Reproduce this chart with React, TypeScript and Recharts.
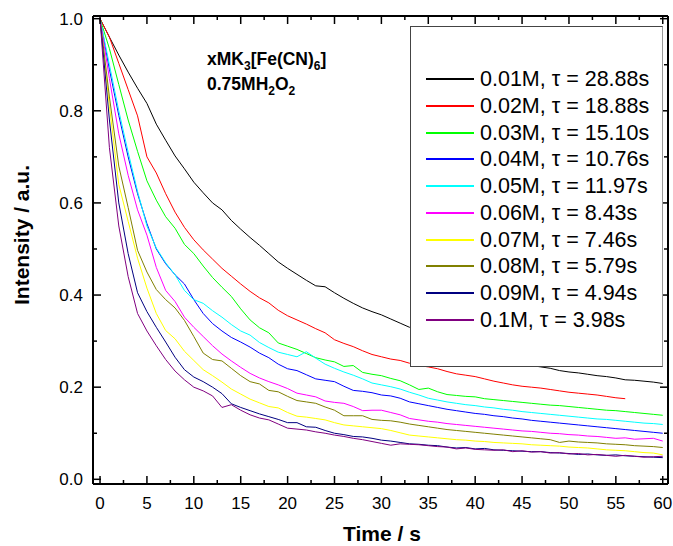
import React from 'react';
import { LineChart, Line, XAxis, YAxis, Legend, Customized } from 'recharts';

const FONT = "Arial, 'Liberation Sans', Helvetica, sans-serif";

const times = [
  0, 1, 2, 3, 4, 5, 6, 7, 8, 9,
  10, 11, 12, 13, 14, 15, 16, 17, 18, 19,
  20, 21, 22, 23, 24, 25, 26, 27, 28, 29,
  30, 31, 32, 33, 34, 35, 36, 37, 38, 39,
  40, 41, 42, 43, 44, 45, 46, 47, 48, 49,
  50, 51, 52, 53, 54, 55, 56, 57, 58, 59,
  60,
];

const c001 = [
  1.0, 0.96, 0.921, 0.884, 0.849, 0.816, 0.771, 0.736, 0.702, 0.674,
  0.645, 0.622, 0.6, 0.585, 0.562, 0.543, 0.525, 0.508, 0.49, 0.472,
  0.458, 0.445, 0.432, 0.42, 0.418, 0.405, 0.393, 0.382, 0.372, 0.364,
  0.357, 0.348, 0.339, 0.33, 0.322, 0.314, 0.306, 0.298, 0.291, 0.284,
  0.278, 0.272, 0.266, 0.26, 0.255, 0.251, 0.247, 0.244, 0.241, 0.236,
  0.233, 0.231, 0.228, 0.225, 0.223, 0.22, 0.216, 0.215, 0.213, 0.211,
  0.208,
];
const c002 = [
  1.0, 0.96, 0.903, 0.846, 0.789, 0.7, 0.665, 0.62, 0.58, 0.547,
  0.52, 0.498, 0.478, 0.458, 0.441, 0.424, 0.408, 0.394, 0.383, 0.367,
  0.355, 0.346, 0.337, 0.327, 0.318, 0.303, 0.295, 0.288, 0.279, 0.271,
  0.266, 0.261, 0.258, 0.252, 0.247, 0.244, 0.24, 0.234, 0.229, 0.226,
  0.223, 0.218, 0.213, 0.209, 0.205, 0.202, 0.2, 0.198, 0.195, 0.192,
  0.189, 0.187, 0.185, 0.183, 0.18, 0.177, 0.175,
];
const c003 = [
  1.0, 0.935, 0.857, 0.78, 0.712, 0.648, 0.606, 0.57, 0.545, 0.51,
  0.49, 0.463, 0.438, 0.417, 0.397, 0.37, 0.346, 0.329, 0.318, 0.296,
  0.289, 0.282, 0.273, 0.264, 0.259, 0.255, 0.245, 0.247, 0.232, 0.228,
  0.225, 0.219, 0.214, 0.205, 0.195, 0.198, 0.19, 0.184, 0.182, 0.18,
  0.179, 0.175, 0.173, 0.171, 0.169, 0.167, 0.165, 0.163, 0.161, 0.16,
  0.158, 0.156, 0.154, 0.152, 0.15, 0.149, 0.147, 0.145, 0.143, 0.141,
  0.139,
];
const c004 = [
  1.0, 0.89, 0.79, 0.7, 0.62, 0.555, 0.5, 0.468, 0.444, 0.424,
  0.39, 0.36, 0.338, 0.322, 0.308, 0.298, 0.287, 0.274, 0.264, 0.25,
  0.24, 0.236, 0.227, 0.218, 0.215, 0.212, 0.202, 0.193, 0.191, 0.188,
  0.183, 0.181, 0.176, 0.168, 0.164, 0.16, 0.156, 0.152, 0.149, 0.146,
  0.143, 0.141, 0.138, 0.136, 0.133, 0.131, 0.128, 0.126, 0.124, 0.122,
  0.12, 0.118, 0.116, 0.114, 0.112, 0.11, 0.108, 0.106, 0.104, 0.102,
  0.1,
];
const c005 = [
  1.0, 0.9, 0.8, 0.71, 0.625, 0.55, 0.502, 0.47, 0.444, 0.41,
  0.39, 0.382, 0.366, 0.352, 0.336, 0.322, 0.313, 0.297, 0.286, 0.276,
  0.271, 0.266, 0.277, 0.263, 0.25, 0.241, 0.233, 0.226, 0.218, 0.209,
  0.205, 0.201, 0.196, 0.189, 0.183, 0.176, 0.172, 0.168, 0.165, 0.162,
  0.16, 0.157, 0.155, 0.152, 0.15, 0.147, 0.145, 0.143, 0.141, 0.139,
  0.137, 0.135, 0.133, 0.131, 0.13, 0.128, 0.126, 0.124, 0.122, 0.121,
  0.119,
];
const c006 = [
  1.0, 0.87, 0.75, 0.66, 0.585, 0.53, 0.46, 0.41, 0.386, 0.352,
  0.33, 0.31, 0.29, 0.272, 0.257, 0.243, 0.23, 0.22, 0.212, 0.205,
  0.197, 0.187, 0.183, 0.179, 0.17, 0.167, 0.165, 0.158, 0.149, 0.15,
  0.15, 0.145, 0.14, 0.132, 0.129, 0.126, 0.124, 0.121, 0.119, 0.117,
  0.115, 0.113, 0.111, 0.109, 0.107, 0.105, 0.104, 0.102, 0.1, 0.099,
  0.097, 0.096, 0.094, 0.093, 0.091, 0.089, 0.09, 0.087, 0.088, 0.089,
  0.083,
];
const c007 = [
  1.0, 0.81, 0.64, 0.56, 0.48, 0.415, 0.36, 0.323, 0.305, 0.278,
  0.258, 0.238, 0.225, 0.211, 0.196, 0.185, 0.174, 0.166, 0.158, 0.155,
  0.145, 0.137, 0.135, 0.132, 0.129, 0.123, 0.118, 0.116, 0.114, 0.112,
  0.11, 0.106, 0.101, 0.096, 0.094, 0.092, 0.09, 0.088, 0.086, 0.085,
  0.083, 0.082, 0.08, 0.079, 0.078, 0.077, 0.075, 0.074, 0.073, 0.072,
  0.07, 0.069, 0.068, 0.066, 0.064, 0.063, 0.062, 0.06, 0.058, 0.057,
  0.053,
];
const c008 = [
  1.0, 0.83, 0.68, 0.59, 0.497, 0.45, 0.412, 0.39, 0.372, 0.345,
  0.31, 0.274, 0.26, 0.257, 0.241, 0.225, 0.212, 0.207, 0.193, 0.19,
  0.18, 0.171, 0.168, 0.165, 0.157, 0.15, 0.138, 0.138, 0.138, 0.13,
  0.128, 0.127, 0.124, 0.12, 0.117, 0.114, 0.111, 0.108, 0.106, 0.104,
  0.102, 0.1, 0.098, 0.096, 0.094, 0.092, 0.09, 0.088, 0.086, 0.08,
  0.083, 0.081, 0.08, 0.079, 0.077, 0.076, 0.075, 0.073, 0.072, 0.071,
  0.069,
];
const c009 = [
  1.0, 0.78, 0.6, 0.49, 0.405, 0.364, 0.33, 0.298, 0.265, 0.238,
  0.222, 0.212, 0.2, 0.186, 0.164, 0.156, 0.149, 0.142, 0.136, 0.13,
  0.123, 0.123, 0.114, 0.113, 0.106, 0.1, 0.097, 0.093, 0.092, 0.089,
  0.085, 0.083, 0.08, 0.077, 0.076, 0.074, 0.073, 0.07, 0.068, 0.069,
  0.066, 0.067, 0.064, 0.063, 0.062, 0.061, 0.06, 0.06, 0.058, 0.057,
  0.056, 0.054, 0.055, 0.053, 0.052, 0.053, 0.051, 0.05, 0.049, 0.048,
  0.047,
];
const c010 = [
  1.0, 0.72, 0.55, 0.44, 0.36, 0.322, 0.29, 0.26, 0.235, 0.216,
  0.2, 0.192, 0.181, 0.156, 0.162, 0.15, 0.14, 0.133, 0.129, 0.12,
  0.111, 0.109, 0.107, 0.103, 0.1, 0.096, 0.093, 0.089, 0.086, 0.082,
  0.078, 0.074, 0.077, 0.076, 0.075, 0.073, 0.071, 0.07, 0.066, 0.068,
  0.065, 0.064, 0.063, 0.064, 0.06, 0.062, 0.059, 0.06, 0.057, 0.058,
  0.055, 0.056, 0.053, 0.054, 0.052, 0.05, 0.052, 0.05, 0.048, 0.049,
  0.05,
];

const seriesNames = [
  '0.01M, \u03c4 = 28.88s',
  '0.02M, \u03c4 = 18.88s',
  '0.03M, \u03c4 = 15.10s',
  '0.04M, \u03c4 = 10.76s',
  '0.05M, \u03c4 = 11.97s',
  '0.06M, \u03c4 = 8.43s',
  '0.07M, \u03c4 = 7.46s',
  '0.08M, \u03c4 = 5.79s',
  '0.09M, \u03c4 = 4.94s',
  '0.1M, \u03c4 = 3.98s',
];
const seriesColors = [
  '#000000', '#ff0000', '#00ff00', '#0000ff', '#00ffff',
  '#ff00ff', '#ffff00', '#808000', '#000080', '#800080',
];
const seriesValues = [c001, c002, c003, c004, c005, c006, c007, c008, c009, c010];

const xTicks = [0, 2.5, 5, 7.5, 10, 12.5, 15, 17.5, 20, 22.5, 25, 27.5, 30, 32.5, 35, 37.5, 40, 42.5, 45, 47.5, 50, 52.5, 55, 57.5, 60];
const yTicks = [0, 0.1, 0.2, 0.3, 0.4, 0.5, 0.6, 0.7, 0.8, 0.9, 1.0];
const xDomain = [-0.75, 60.56];
const yDomain = [-0.0102, 1.0058];

const data = times.map((t, i) => {
  const row: any = { t };
  seriesValues.forEach((s, k) => {
    if (i < s.length) row['s' + k] = s[i];
  });
  return row;
});

const isMajorX = (v: number) => Math.abs(v / 5 - Math.round(v / 5)) < 1e-6;
const isMajorY = (v: number) => Math.abs(v / 0.2 - Math.round(v / 0.2)) < 1e-6;

const MAJOR = 8;
const MINOR = 4;

const BottomTick = (props: any) => {
  const { x, y, payload } = props;
  const major = isMajorX(payload.value);
  return (
    <g>
      <line x1={x} x2={x} y1={y} y2={y - (major ? MAJOR : MINOR)} stroke="#000" strokeWidth={1.5} />
      {major && (
        <text x={x} y={y + 25} textAnchor="middle" fontSize={17} fontFamily={FONT} fill="#000">
          {String(payload.value)}
        </text>
      )}
    </g>
  );
};
const TopTick = (props: any) => {
  const { x, y, payload } = props;
  const major = isMajorX(payload.value);
  return <line x1={x} x2={x} y1={y} y2={y + (major ? MAJOR : MINOR)} stroke="#000" strokeWidth={1.5} />;
};
const LeftTick = (props: any) => {
  const { x, y, payload } = props;
  const major = isMajorY(payload.value);
  return (
    <g>
      <line x1={x} x2={x + (major ? MAJOR : MINOR)} y1={y} y2={y} stroke="#000" strokeWidth={1.5} />
      {major && (
        <text x={x - 10} y={y + 6} textAnchor="end" fontSize={17} fontFamily={FONT} fill="#000">
          {Number(payload.value).toFixed(1)}
        </text>
      )}
    </g>
  );
};
const RightTick = (props: any) => {
  const { x, y, payload } = props;
  const major = isMajorY(payload.value);
  return <line x1={x} x2={x - (major ? MAJOR : MINOR)} y1={y} y2={y} stroke="#000" strokeWidth={1.5} />;
};

const XTitle = () => (
  <text x={382} y={541} textAnchor="middle" fontSize={21} fontWeight="bold" fontFamily={FONT} fill="#000">
    Time / s
  </text>
);
const YTitle = () => (
  <text
    transform="translate(21,235) rotate(-90)"
    textAnchor="middle"
    dominantBaseline="central"
    fontSize={21}
    fontWeight="bold"
    fontFamily={FONT}
    fill="#000"
  >
    Intensity / a.u.
  </text>
);

const Annotation = () => (
  <g fontFamily={FONT} fontWeight="bold" fill="#000">
    <text x={207} y={65} fontSize={17.5}>
      xMK<tspan dy={5} fontSize={12}>3</tspan>
      <tspan dy={-5}>[Fe(CN)</tspan>
      <tspan dy={5} fontSize={12}>6</tspan>
      <tspan dy={-5}>]</tspan>
    </text>
    <text x={207} y={90} fontSize={17.5}>
      0.75MH<tspan dy={5} fontSize={12}>2</tspan>
      <tspan dy={-5}>O</tspan>
      <tspan dy={5} fontSize={12}>2</tspan>
    </text>
  </g>
);

const ROW_TOP = 39;
const ROW_STEP = 26.75;

const LegendBox = () => (
  <div
    style={{
      position: 'relative',
      width: 253,
      height: 341,
      boxSizing: 'border-box',
      border: '1px solid #444',
      borderRightColor: '#999',
      background: '#fff',
      fontFamily: FONT,
    }}
  >
    {seriesNames.map((name, k) => {
      const top = Math.round(ROW_TOP + k * ROW_STEP);
      return (
        <div key={name} style={{ position: 'absolute', left: 0, top, height: 27, width: 250 }}>
          <div style={{ position: 'absolute', left: 15, top: 12, width: 48, height: 2, background: seriesColors[k] }} />
          <span
            style={{
              position: 'absolute',
              left: 69,
              top: 0,
              fontSize: 21.5,
              lineHeight: '27px',
              color: '#000',
              whiteSpace: 'nowrap',
            }}
          >
            {name}
          </span>
        </div>
      );
    })}
  </div>
);

const axisLine = { stroke: '#000', strokeWidth: 2 };

export default function App() {
  return (
    <div style={{ position: 'absolute', left: 0, top: 0, width: 673, height: 546 }}>
      <LineChart width={673} height={546} data={data} margin={{ top: 15, right: 4, bottom: 0, left: 0 }}>
        <XAxis
          xAxisId="b"
          dataKey="t"
          type="number"
          orientation="bottom"
          domain={xDomain}
          allowDataOverflow
          ticks={xTicks}
          interval={0}
          tickSize={0}
          tickMargin={0}
          tickLine={false}
          tick={BottomTick}
          axisLine={axisLine}
          height={62}
          label={XTitle}
        />
        <XAxis
          xAxisId="t"
          dataKey="t"
          type="number"
          orientation="top"
          domain={xDomain}
          allowDataOverflow
          ticks={xTicks}
          interval={0}
          tickSize={0}
          tickMargin={0}
          tickLine={false}
          tick={TopTick}
          axisLine={axisLine}
          height={1}
        />
        <YAxis
          yAxisId="l"
          type="number"
          orientation="left"
          domain={yDomain}
          allowDataOverflow
          ticks={yTicks}
          interval={0}
          tickSize={0}
          tickMargin={0}
          tickLine={false}
          tick={LeftTick}
          axisLine={axisLine}
          width={93}
          label={YTitle}
        />
        <YAxis
          yAxisId="r"
          type="number"
          orientation="right"
          domain={yDomain}
          allowDataOverflow
          ticks={yTicks}
          interval={0}
          tickSize={0}
          tickMargin={0}
          tickLine={false}
          tick={RightTick}
          axisLine={axisLine}
          width={1}
        />
        {seriesNames.map((name, k) => (
          <Line
            key={name}
            xAxisId="b"
            yAxisId="l"
            type="linear"
            dataKey={'s' + k}
            name={name}
            stroke={seriesColors[k]}
            strokeWidth={1}
            dot={false}
            activeDot={false}
            isAnimationActive={false}
          />
        ))}
        <Line
          xAxisId="t"
          yAxisId="r"
          type="linear"
          dataKey="s0"
          stroke="none"
          strokeWidth={0}
          dot={false}
          activeDot={false}
          legendType="none"
          isAnimationActive={false}
        />
        <Customized component={Annotation} />
        <Legend
          layout="horizontal"
          verticalAlign="middle"
          align="center"
          content={LegendBox}
          wrapperStyle={{ left: 410, top: 26, width: 253, height: 341 }}
        />
      </LineChart>
    </div>
  );
}
